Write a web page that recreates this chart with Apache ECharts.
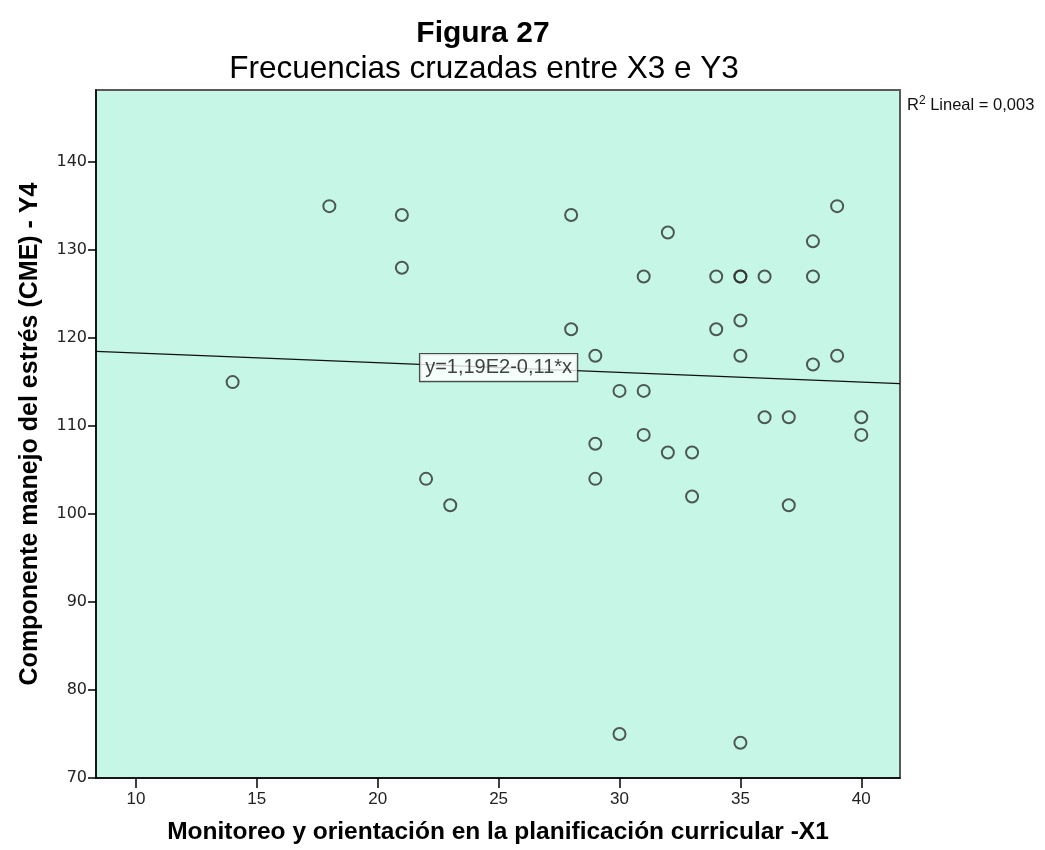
<!DOCTYPE html>
<html>
<head>
<meta charset="utf-8">
<script src="https://cdn.jsdelivr.net/npm/echarts@6/dist/echarts.min.js"></script>
<style>
html,body{margin:0;padding:0;background:#fff;}
#chart{width:1045px;height:850px;}
</style>
</head>
<body>
<div id="chart"></div>
<script>
// Data
const xValues = [14, 18, 21, 21, 22, 23, 28, 28, 29, 29, 29, 30, 30, 31, 31, 31, 32, 32, 33, 33, 34, 34, 35, 35, 35, 35, 35, 36, 36, 37, 37, 38, 38, 38, 39, 39, 40, 40];
const yValues = [115, 135, 134, 128, 104, 101, 134, 121, 118, 108, 104, 114, 75, 127, 114, 109, 132, 107, 107, 102, 127, 121, 127, 127, 122, 118, 74, 127, 111, 111, 101, 131, 127, 117, 135, 118, 111, 109];
const xTicks = [10, 15, 20, 25, 30, 35, 40];
const yTicks = [70, 80, 90, 100, 110, 120, 130, 140];
const fitIntercept = 119.4;
const fitSlope = -0.11;
const fitLabelText = 'y=1,19E2-0,11*x';
const fitLabelX = 25;
const r2Text = 'Lineal = 0,003';
const titleText = 'Figura 27';
const subtitleText = 'Frecuencias cruzadas entre X3 e Y3';
const xName = 'Monitoreo y orientación en la planificación curricular -X1';
const yName = 'Componente manejo del estrés (CME) - Y4';

const xMin = 8.35, xMax = 41.6, yMin = 70, yMax = 148.2;
const fit = x => fitIntercept + fitSlope * x;
const points = xValues.map((x, i) => [x, yValues[i]]);

const chart = echarts.init(document.getElementById('chart'), null, {renderer: 'canvas'});
const FONT = '"Liberation Sans", Arial, sans-serif';
chart.setOption({
  animation: false,
  backgroundColor: '#ffffff',
  title: [
    {text: titleText, left: 478, top: 14, textAlign: 'center',
     textStyle: {fontFamily: FONT, fontSize: 30, fontWeight: 'bold', color: '#000'}},
    {text: subtitleText, left: 479, top: 48, textAlign: 'center',
     textStyle: {fontFamily: FONT, fontSize: 31.5, fontWeight: 'normal', color: '#000'}},
    {text: '{r|R}{s|2}{r| ' + r2Text + '}', left: 902, top: 90,
     textStyle: {fontWeight: 'normal', rich: {
       r: {fontFamily: FONT, fontSize: 16.5, fontWeight: 'normal', color: '#111', verticalAlign: 'bottom', lineHeight: 19},
       s: {fontFamily: FONT, fontSize: 12, fontWeight: 'normal', color: '#111', verticalAlign: 'top', lineHeight: 19, padding: [0, 0, 6, 0]}
     }}}
  ],
  grid: {left: 96, right: 145, top: 90, bottom: 72, show: true,
         backgroundColor: '#c6f7e6', borderColor: '#5a5a5a', borderWidth: 2, containLabel: false},
  xAxis: {
    type: 'value', min: xMin, max: xMax,
    name: xName, nameLocation: 'middle', nameGap: 42,
    nameTextStyle: {fontFamily: FONT, fontSize: 24.5, fontWeight: 'bold', color: '#000'},
    axisLine: {show: true, onZero: false, lineStyle: {color: '#000', width: 1.5}},
    axisTick: {show: true, length: 10, customValues: xTicks, lineStyle: {color: '#000', width: 1.5}},
    axisLabel: {customValues: xTicks, margin: 13, fontFamily: FONT, fontSize: 17, color: '#222'},
    splitLine: {show: false}
  },
  yAxis: {
    type: 'value', min: yMin, max: yMax,
    name: yName, nameLocation: 'middle', nameGap: 53,
    nameTextStyle: {fontFamily: FONT, fontSize: 25, fontWeight: 'bold', color: '#000'},
    axisLine: {show: true, onZero: false, lineStyle: {color: '#000', width: 1.5}},
    axisTick: {show: true, length: 8, customValues: yTicks, lineStyle: {color: '#000', width: 1.5}},
    axisLabel: {customValues: yTicks, margin: 9, fontFamily: '"DejaVu Sans", sans-serif', fontSize: 16, color: '#222'},
    splitLine: {show: false}
  },
  series: [
    {
      type: 'line', data: [[xMin, fit(xMin)], [xMax, fit(xMax)]],
      symbol: 'none', lineStyle: {color: '#111', width: 1.3}, z: 2, silent: true
    },
    {
      type: 'scatter', data: points, symbol: 'circle', symbolSize: 12,
      itemStyle: {color: 'rgba(0,0,0,0)', borderColor: '#2e2e2e', borderWidth: 2}, z: 3
    },
    {
      type: 'scatter', data: [[fitLabelX, fit(fitLabelX)]], symbolSize: 0, z: 4,
      label: {show: true, position: 'inside', formatter: fitLabelText,
              fontFamily: FONT, fontSize: 20, color: '#111',
              backgroundColor: '#ffffff', borderColor: '#222', borderWidth: 1.2,
              padding: [4, 5, 3, 5]}
    }
  ]
});
</script>
</body>
</html>
